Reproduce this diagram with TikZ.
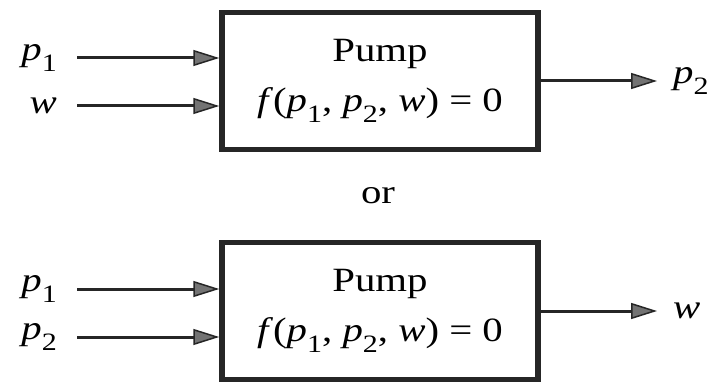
\documentclass[tikz,border=0pt]{standalone}
\usepackage{fontspec}
\setmainfont{Liberation Serif}[FakeStretch=1.2]
\usetikzlibrary{arrows.meta}
\newcommand{\vsub}[2]{\textit{#1}\raisebox{-0.32em}{\fontsize{25}{25}\selectfont #2}}
\begin{document}
\begin{tikzpicture}[x=1pt, y=-1pt,
    pumpbox/.style={draw=black!85, line width=5.5pt, minimum width=316pt,
      minimum height=137pt, align=center, font=\fontsize{34}{50}\selectfont},
    inlabel/.style={anchor=east, inner xsep=20pt, inner ysep=0pt, font=\fontsize{34}{38}\selectfont},
    outlabel/.style={anchor=west, inner xsep=16pt, inner ysep=0pt, font=\fontsize{34}{38}\selectfont},
    flow/.style={line width=3pt, black!85,
      -{Triangle[length=26pt, width=16pt, fill=black!55, line width=1.5pt]}}]
  \useasboundingbox (0,0) rectangle (720,385);

  % First case: p1 and w in, p2 out
  \node[pumpbox] (pumpA) at (380,81)
    {Pump\\ \textit{f}(\vsub{p}{1}, \vsub{p}{2}, \textit{w}) = 0};
  \node[inlabel] (pA) at (77,58) {\vsub{p}{1}};
  \node[inlabel] (wA) at (77,106) {\textit{w}};
  \node[outlabel] (outA) at (657,81) {\vsub{p}{2}};
  \draw[flow] (pA.east) -- (pA.east -| pumpA.west);
  \draw[flow] (wA.east) -- (wA.east -| pumpA.west);
  \draw[flow] (pumpA.east) -- (outA.west);

  % Alternative
  \node[font=\fontsize{34}{38}\selectfont] (alt) at (378,196) {or};

  % Second case: p1 and p2 in, w out
  \node[pumpbox] (pumpB) at (380,311)
    {Pump\\ \textit{f}(\vsub{p}{1}, \vsub{p}{2}, \textit{w}) = 0};
  \node[inlabel] (pB) at (77,289) {\vsub{p}{1}};
  \node[inlabel] (qB) at (77,337) {\vsub{p}{2}};
  \node[outlabel] (outB) at (657,311) {\textit{w}};
  \draw[flow] (pB.east) -- (pB.east -| pumpB.west);
  \draw[flow] (qB.east) -- (qB.east -| pumpB.west);
  \draw[flow] (pumpB.east) -- (outB.west);
\end{tikzpicture}
\end{document}
